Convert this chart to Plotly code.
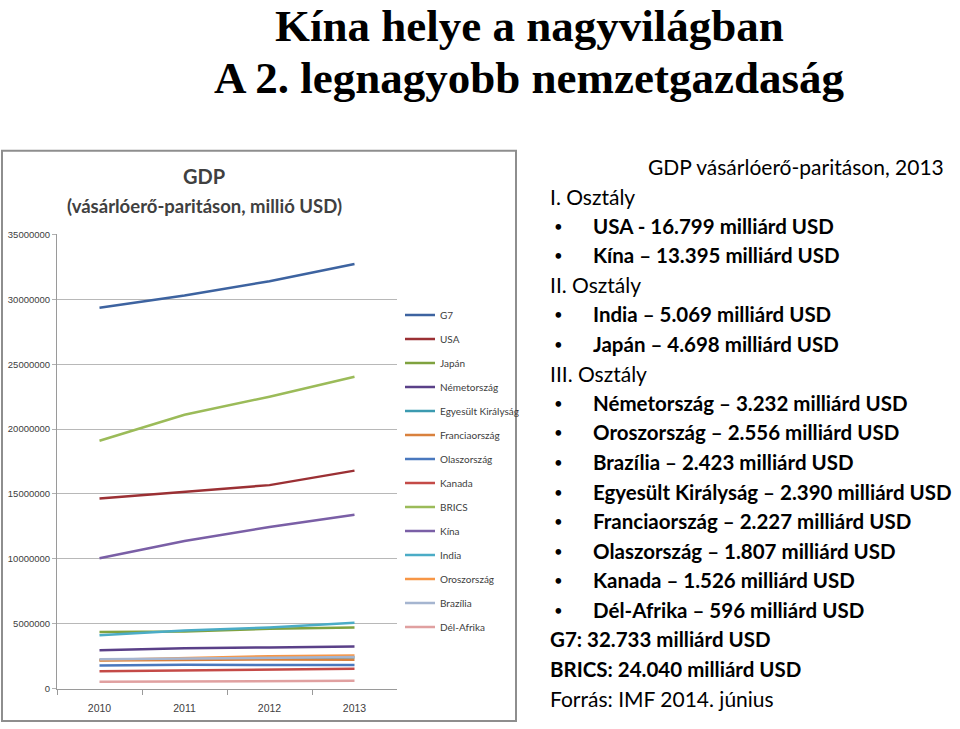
import plotly.graph_objects as go

W, H = 960, 729

years = ["2010", "2011", "2012", "2013"]

series_names = ["G7", "USA", "Japán", "Németország", "Egyesült Királyság",
                "Franciaország", "Olaszország", "Kanada", "BRICS", "Kína",
                "India", "Oroszország", "Brazília", "Dél-Afrika"]

g7 = [29350000, 30300000, 31400000, 32733000]
usa = [14650000, 15180000, 15680000, 16799000]
japan = [4350000, 4400000, 4600000, 4698000]
germany = [2960000, 3100000, 3170000, 3232000]
uk = [2200000, 2250000, 2300000, 2390000]
france = [2170000, 2220000, 2240000, 2227000]
italy = [1780000, 1830000, 1810000, 1807000]
canada = [1340000, 1390000, 1470000, 1526000]
brics = [19100000, 21100000, 22500000, 24040000]
china = [10050000, 11370000, 12460000, 13395000]
india = [4100000, 4480000, 4710000, 5069000]
russia = [2200000, 2370000, 2490000, 2556000]
brazil = [2250000, 2300000, 2370000, 2423000]
south_africa = [530000, 560000, 580000, 596000]

series_values = [g7, usa, japan, germany, uk, france, italy, canada,
                 brics, china, india, russia, brazil, south_africa]

colors = ["#3D63A0", "#9B3034", "#7FA23F", "#5A4088", "#3B9AB0", "#D9813D",
          "#4A78BE", "#C44A47", "#9BBB59", "#7A5FA6", "#4BACC6", "#F79646",
          "#A5B5D0", "#E0A0A0"]

y_ticks = [0, 5000000, 10000000, 15000000, 20000000, 25000000, 30000000, 35000000]

slide_title = ["Kína helye a nagyvilágban", "A 2. legnagyobb nemzetgazdaság"]
chart_title = ["GDP", "(vásárlóerő-paritáson, millió USD)"]

text_lines = [
    ("GDP vásárlóerő-paritáson, 2013", "header"),
    ("I. Osztály", "plain"),
    ("USA - 16.799 milliárd USD", "bullet"),
    ("Kína – 13.395 milliárd USD", "bullet"),
    ("II. Osztály", "plain"),
    ("India – 5.069 milliárd USD", "bullet"),
    ("Japán – 4.698 milliárd USD", "bullet"),
    ("III. Osztály", "plain"),
    ("Németország – 3.232 milliárd USD", "bullet"),
    ("Oroszország – 2.556 milliárd USD", "bullet"),
    ("Brazília – 2.423 milliárd USD", "bullet"),
    ("Egyesült Királyság – 2.390 milliárd USD", "bullet"),
    ("Franciaország – 2.227 milliárd USD", "bullet"),
    ("Olaszország – 1.807 milliárd USD", "bullet"),
    ("Kanada – 1.526 milliárd USD", "bullet"),
    ("Dél-Afrika – 596 milliárd USD", "bullet"),
    ("G7: 32.733 milliárd USD", "bold"),
    ("BRICS: 24.040 milliárd USD", "bold"),
    ("Forrás: IMF 2014. június", "plain"),
]


def px(x):
    return x / W


def py(y):
    return 1 - y / H


fig = go.Figure()
for i, (name, vals, col) in enumerate(zip(series_names, series_values, colors)):
    fig.add_trace(go.Scatter(
        x=years, y=vals, name=name, mode="lines",
        line=dict(color=col, width=2.5),
        legendgroup=f"g{i}",
    ))

chart_font = "Liberation Sans, Arial, sans-serif"
title_font = "Liberation Serif, Times New Roman, serif"
text_font = "Lato, Open Sans, sans-serif"


def ann(text, x, y, size, family, xanchor="center", color="#000000"):
    return dict(text=text, x=px(x), y=py(y), xref="paper", yref="paper",
                showarrow=False, xanchor=xanchor, yanchor="middle",
                font=dict(family=family, size=size, color=color))


annotations = [
    ann("<b>" + slide_title[0] + "</b>", 529, 20, 45, title_font),
    ann("<b>" + slide_title[1] + "</b>", 529, 73, 45, title_font),
    ann("<b>" + chart_title[0] + "</b>", 204, 173, 20, text_font, color="#404040"),
    ann("<b>" + chart_title[1] + "</b>", 204, 203, 18.5, text_font, color="#404040"),
]

y0 = 163
for k, (txt, kind) in enumerate(text_lines):
    yy = y0 + 30 * k
    if kind == "header":
        annotations.append(ann(txt, 946, yy, 21, text_font, xanchor="right"))
    elif kind == "bullet":
        annotations.append(ann("•", 552, yy, 15, text_font, xanchor="left"))
        annotations.append(ann("<b>" + txt + "</b>", 591, yy, 20.5, text_font, xanchor="left"))
    elif kind == "bold":
        annotations.append(ann("<b>" + txt + "</b>", 548, yy, 20.5, text_font, xanchor="left"))
    else:
        annotations.append(ann(txt, 548, yy, 21, text_font, xanchor="left"))

shapes = [dict(type="rect", xref="paper", yref="paper",
               x0=px(2), x1=px(516), y0=py(726), y1=py(147),
               line=dict(color="#8E8E8E", width=2), fillcolor="rgba(0,0,0,0)")]

fig.update_layout(
    width=W, height=H,
    margin=dict(l=0, r=0, t=0, b=0),
    paper_bgcolor="#FFFFFF", plot_bgcolor="#FFFFFF",
    showlegend=True,
    legend=dict(x=px(400), y=py(299), xanchor="left", yanchor="top",
                font=dict(family=text_font, size=10, color="#404040"),
                tracegroupgap=5, bgcolor="rgba(0,0,0,0)"),
    xaxis=dict(domain=[px(57), px(397)], type="category", range=[-0.5, 3.5],
               tickson="boundaries", ticks="outside", ticklen=5, tickcolor="#9A9A9A",
               showline=True, linecolor="#9A9A9A", linewidth=1, showgrid=False,
               ticklabelstandoff=10,
               tickfont=dict(family=chart_font, size=10.5, color="#404040")),
    yaxis=dict(domain=[py(693), py(232)], range=[0, 35000000], tickvals=y_ticks,
               ticktext=[str(v) for v in y_ticks], ticks="outside", ticklen=4,
               tickcolor="#B0B0B0", showline=True, linecolor="#9A9A9A", linewidth=1,
               gridcolor="#B8B8B8", gridwidth=1, zeroline=False,
               tickfont=dict(family=chart_font, size=9.5, color="#404040")),
    annotations=annotations,
    shapes=shapes,
)

fig.write_html("out.html")
